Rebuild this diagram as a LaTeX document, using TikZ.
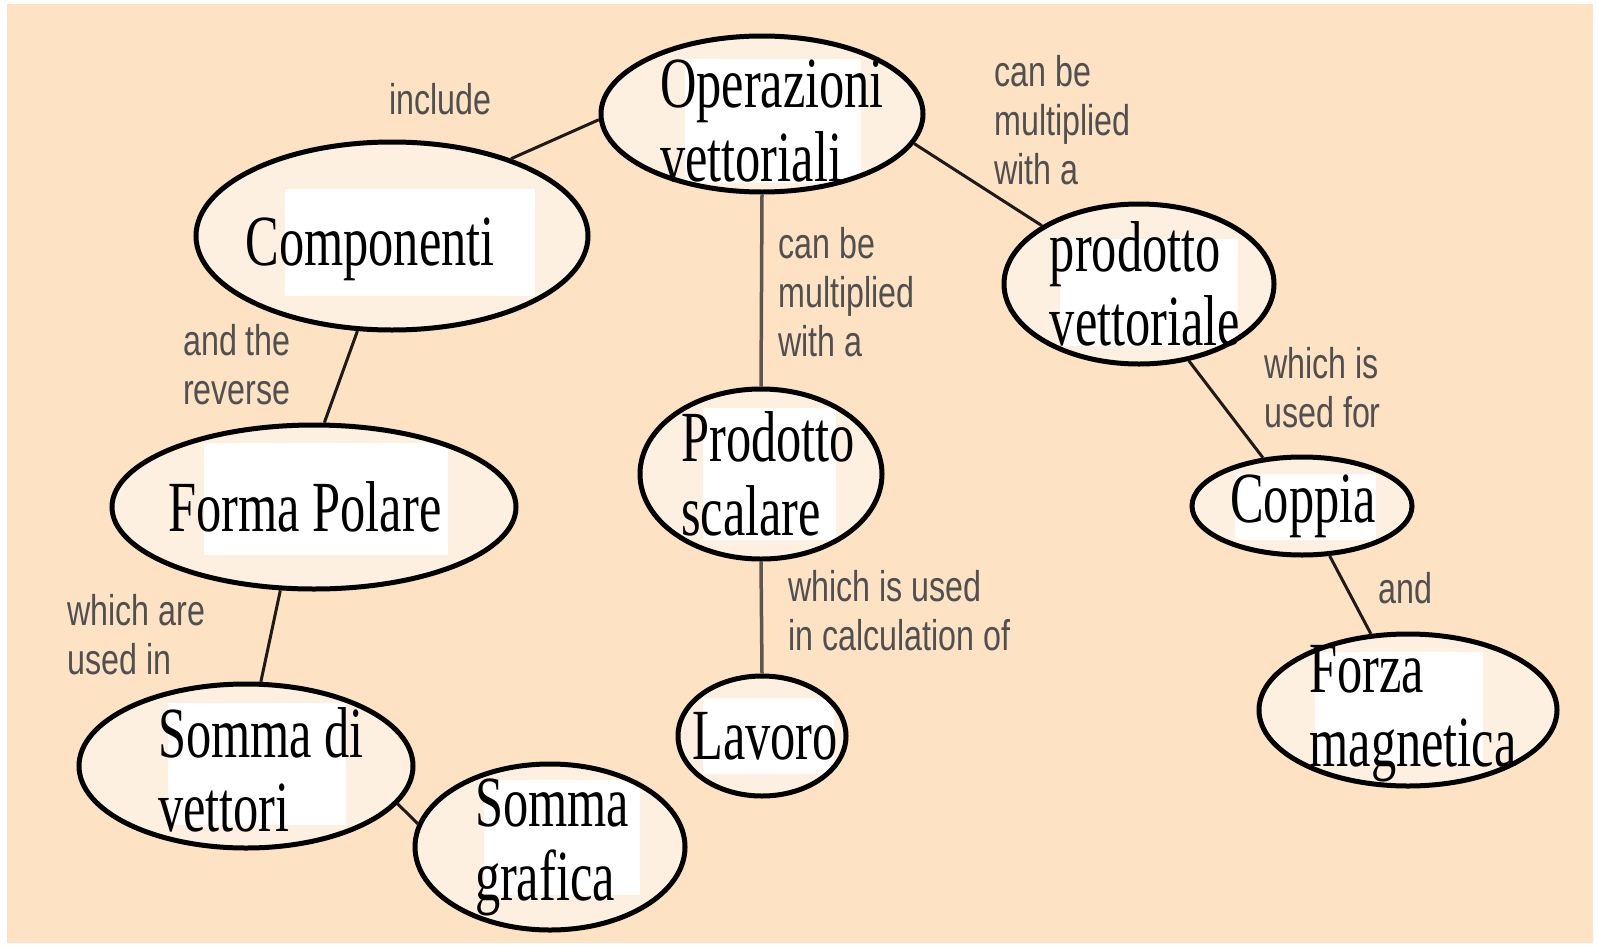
\documentclass[tikz,border=0pt]{standalone}
\usepackage{fontspec}
\usetikzlibrary{shapes.geometric, calc}
\newfontfamily\conceptfont[FakeStretch=0.7]{Liberation Serif}
\newfontfamily\linkfont[FakeStretch=0.75]{Liberation Sans}
\definecolor{peach}{RGB}{253,226,196}
\definecolor{cream}{RGB}{254,240,225}
\definecolor{linkdark}{RGB}{30,26,24}
\definecolor{linkgray}{RGB}{95,85,78}
\definecolor{wordgray}{RGB}{80,80,80}
\tikzset{
  concept/.style={ellipse,draw=black,line width=5pt,fill=cream,inner sep=0pt},
  ctext/.style={inner sep=0pt,align=left,text=black,font=\conceptfont\fontsize{72}{74}\selectfont},
  patch/.style n args={4}{path picture={\fill[white] ($(path picture bounding box.center)+(#1pt,#2pt)$) rectangle ($(path picture bounding box.center)+(#3pt,#4pt)$);}},
  linkword/.style={anchor=west,inner sep=0pt,align=left,text=wordgray,font=\linkfont\fontsize{43}{49}\selectfont},
  link/.style={line width=3pt,color=linkdark},
  vlink/.style={line width=3.5pt,color=linkgray}
}

\begin{document}
\begin{tikzpicture}[x=1pt,y=-1pt]
  \fill[white] (0,0) rectangle (1598,945);
  \fill[peach] (7,4) rectangle (1593,943);
  \useasboundingbox (0,0) rectangle (1598,945);

  % concepts
  \node[concept,minimum width=322pt,minimum height=156pt,patch={-77}{-69}{99}{55},
        label={[ctext,xshift=10pt,yshift=-7pt]center:{Operazioni\\vettoriali}}] (oper) at (762,114) {};
  \node[concept,minimum width=392pt,minimum height=188pt,patch={-107}{-60}{143}{47},
        label={[ctext,xshift=-22pt,yshift=-13pt]center:Componenti}] (comp) at (392,236) {};
  \node[concept,minimum width=404pt,minimum height=164pt,patch={-110}{-48}{134}{64},
        label={[ctext,xshift=-9pt]center:Forma Polare}] (forma) at (314,507) {};
  \node[concept,minimum width=334pt,minimum height=164pt,patch={-78}{-59}{100}{63},
        label={[ctext,xshift=15pt,yshift=-4pt]center:{Somma di\\vettori}}] (svet) at (246,766) {};
  \node[concept,minimum width=270pt,minimum height=166pt,patch={-66}{-48}{90}{67},
        label={[ctext,xshift=2pt]center:{Somma\\grafica}}] (sgra) at (550,847) {};
  \node[concept,minimum width=242pt,minimum height=170pt,patch={-58}{-66}{75}{66},
        label={[ctext,xshift=7pt]center:{Prodotto\\scalare}}] (pscal) at (761,474) {};
  \node[concept,minimum width=168pt,minimum height=120pt,patch={-59}{-38}{72}{38},
        label={[ctext,xshift=3pt]center:Lavoro}] (lav) at (762,736) {};
  \node[concept,minimum width=270pt,minimum height=160pt,patch={-79}{-62}{99}{45},
        label={[ctext,xshift=6pt]center:{prodotto\\vettoriale}}] (pvet) at (1139,284) {};
  \node[concept,minimum width=220pt,minimum height=98pt,patch={-67}{-34}{74}{32},
        label={[ctext,xshift=1pt]center:Coppia}] (copp) at (1302,506) {};
  \node[concept,minimum width=298pt,minimum height=152pt,patch={-93}{-54}{75}{58},
        label={[ctext,xshift=5pt,yshift=-4pt]center:{Forza\\magnetica}}] (forza) at (1408,710) {};

  % links
  \draw[link] (oper.182) -- (comp.33);
  \draw[vlink] (oper.south) -- (pscal.north);
  \draw[link] (oper.-11) -- (pvet.149);
  \draw[link] (comp.-110) -- (forma.83);
  \draw[link] (forma.-112) -- (svet.80);
  \draw[link] (svet.-14) -- (sgra.170);
  \draw[vlink] (pscal.south) -- (lav.north);
  \draw[link] (pvet.-57) -- (copp.129);
  \draw[link] (copp.-61) -- (forza.116);

  % linking words
  \node[linkword] (w1) at (389,99) {include};
  \node[linkword] (w2) at (994,120) {can be\\multiplied\\with a};
  \node[linkword] (w3) at (778,292) {can be\\multiplied\\with a};
  \node[linkword] (w4) at (183,365) {and the\\reverse};
  \node[linkword] (w5) at (67,635) {which are\\used in};
  \node[linkword] (w6) at (788,611) {which is used\\in calculation of};
  \node[linkword] (w7) at (1264,388) {which is\\used for};
  \node[linkword] (w8) at (1378,588) {and};
\end{tikzpicture}
\end{document}
